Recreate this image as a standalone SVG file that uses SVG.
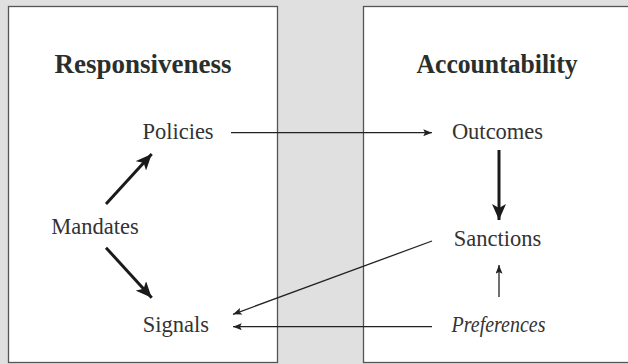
<svg xmlns="http://www.w3.org/2000/svg" width="628" height="364" viewBox="0 0 628 364">
<style>
.panel{fill:#fff;stroke:#555;stroke-width:1.3}
.title{font-family:"Liberation Serif",serif;font-weight:bold;font-size:27px;fill:#2b2f2b;text-anchor:middle}
.lbl{font-family:"Liberation Serif",serif;font-size:22.5px;fill:#333;text-anchor:middle}
.thin{stroke:#222;stroke-width:1.3;fill:none;marker-end:url(#ah)}
.thick{stroke:#1a1a1a;stroke-width:3;fill:none;marker-end:url(#AH)}
</style>
<defs>
<marker id="ah" markerUnits="userSpaceOnUse" viewBox="0 0 10 8" refX="10" refY="4" markerWidth="9" markerHeight="7" orient="auto">
<path d="M0,0 L10,4 L0,8 L2,4 Z" fill="#222"/>
</marker>
<marker id="AH" markerUnits="userSpaceOnUse" viewBox="0 0 16 14" refX="16" refY="7" markerWidth="16" markerHeight="14" orient="auto">
<path d="M0,0 L16,7 L0,14 L4,7 Z" fill="#1a1a1a"/>
</marker>
</defs>
<rect width="628" height="364" fill="#e0e0e0"/>
<g id="responsiveness-panel">
<rect class="panel" x="8.5" y="6.5" width="269" height="356"/>
<text class="title" x="143" y="73">Responsiveness</text>
</g>
<g id="accountability-panel">
<rect class="panel" x="363.5" y="6.5" width="280" height="356"/>
<text class="title" x="497" y="73" textLength="161" lengthAdjust="spacingAndGlyphs">Accountability</text>
</g>
<g id="policies"><text class="lbl" x="178" y="139">Policies</text></g>
<g id="mandates"><text class="lbl" x="95" y="234">Mandates</text></g>
<g id="signals"><text class="lbl" x="176" y="332">Signals</text></g>
<g id="outcomes"><text class="lbl" x="497.5" y="139">Outcomes</text></g>
<g id="sanctions"><text class="lbl" x="497.5" y="246">Sanctions</text></g>
<g id="preferences"><text class="lbl" x="498.5" y="332" font-style="italic" textLength="94" lengthAdjust="spacingAndGlyphs">Preferences</text></g>
<g id="connectors">
<line class="thin" x1="231" y1="132.7" x2="432" y2="132.7"/>
<line class="thick" x1="499" y1="150" x2="499" y2="220"/>
<line class="thin" x1="499" y1="297" x2="499" y2="265"/>
<line class="thin" x1="432" y1="326.7" x2="233" y2="326.7"/>
<line class="thin" x1="432" y1="241" x2="233" y2="314.3"/>
<line class="thick" x1="106" y1="204" x2="151.7" y2="154"/>
<line class="thick" x1="106" y1="247.7" x2="151.7" y2="297.7"/>
</g>
</svg>
